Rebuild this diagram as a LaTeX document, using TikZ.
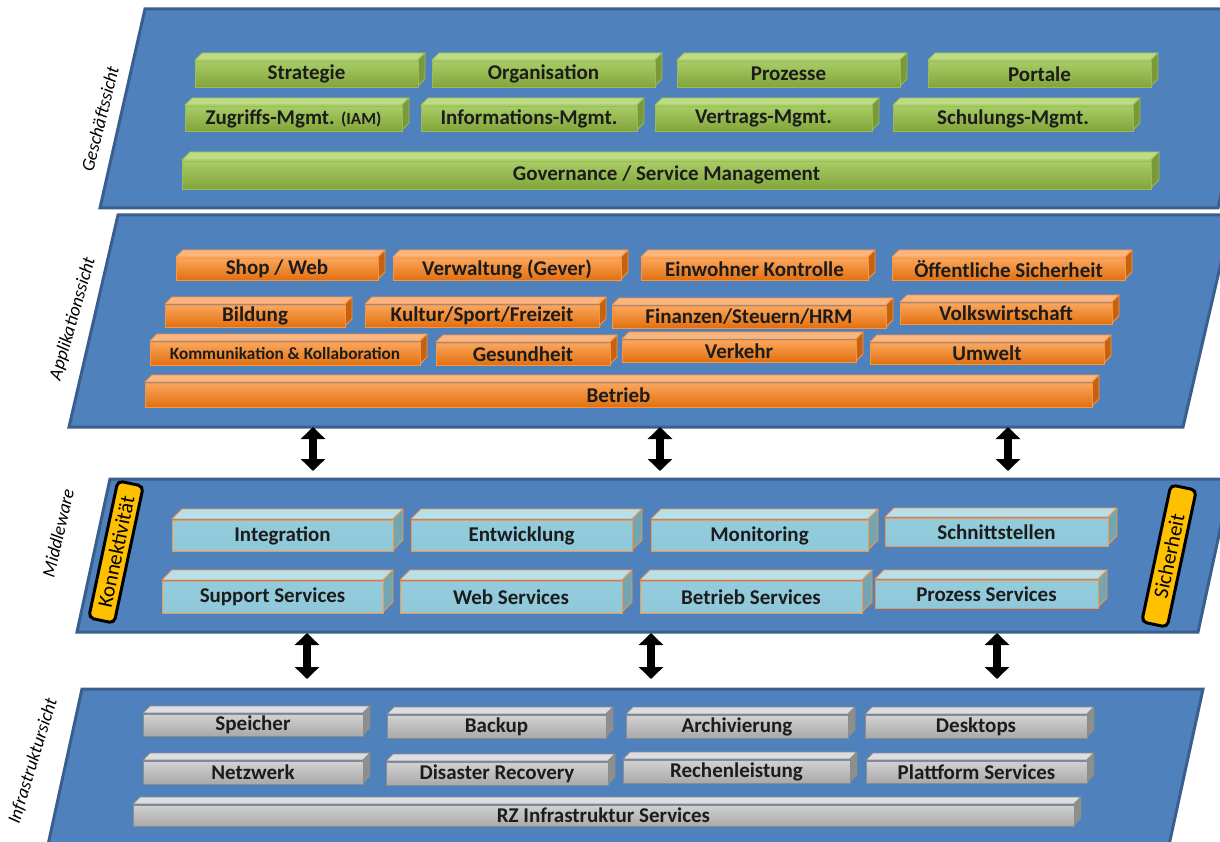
\documentclass[tikz,border=0pt]{standalone}
\usepackage{fontspec}
\setmainfont{Carlito}
\usetikzlibrary{arrows.meta}
\definecolor{panelfill}{HTML}{4F81BD}
\definecolor{paneledge}{HTML}{3A5F8E}
\definecolor{gA}{HTML}{A9CD66}
\definecolor{gB}{HTML}{81A53A}
\definecolor{gT}{HTML}{BEDC84}
\definecolor{gS}{HTML}{7A9A3A}
\definecolor{gE}{HTML}{9BBB59}
\definecolor{oA}{HTML}{FBA65C}
\definecolor{oB}{HTML}{E2700F}
\definecolor{oT}{HTML}{FBB680}
\definecolor{oS}{HTML}{C6620F}
\definecolor{oE}{HTML}{F79646}
\definecolor{bA}{HTML}{93CDDD}
\definecolor{bB}{HTML}{8FC9D9}
\definecolor{bT}{HTML}{B9DFE9}
\definecolor{bS}{HTML}{73A6B1}
\definecolor{bE}{HTML}{F79646}
\definecolor{kA}{HTML}{D2D2D2}
\definecolor{kB}{HTML}{A9A9A9}
\definecolor{kT}{HTML}{DEDEDE}
\definecolor{kS}{HTML}{8E8E8E}
\definecolor{kE}{HTML}{8C8C8C}
\definecolor{yel}{HTML}{FFC000}
\definecolor{txt}{HTML}{1C1C1C}
\newcommand{\cube}[9]{%
  \filldraw[fill=#7T,draw=#7E,line width=0.9pt,line join=round] (#2,#3) -- ({#2+#6},{#3-#6}) -- ({#4+#6},{#3-#6}) -- (#4,#3) -- cycle;
  \filldraw[fill=#7S,draw=#7E,line width=0.9pt,line join=round] (#4,#3) -- ({#4+#6},{#3-#6}) -- ({#4+#6},{#5-#6}) -- (#4,#5) -- cycle;
  \node[draw=#7E,line width=0.9pt,top color=#7A,bottom color=#7B,minimum width={#4-#2},minimum height={#5-#3},inner sep=0pt,anchor=center,text=txt,font=#8] (#1) at ({(#2+#4)/2},{(#3+#5)/2+1}) {#9};%
}
\newcommand{\bx}{\bfseries\fontsize{21}{23}\selectfont}
\newcommand{\bxs}{\bfseries\fontsize{17.2}{19}\selectfont}
\tikzset{
  panel/.style={fill=panelfill,draw=paneledge,line width=3pt,line join=miter},
  sidelabel/.style={font=\itshape\fontsize{18.5}{20}\selectfont,text=black,inner sep=0pt},
  pillar/.style={fill=yel,draw=black,line width=3pt,rounded corners=5pt,minimum width=140pt,minimum height=26pt,inner sep=0pt,font=\fontsize{21}{22}\selectfont,text=black},
  blockarrow/.style={line width=8pt,{Triangle[width=24pt,length=12pt]}-{Triangle[width=24pt,length=12pt]}}
}
\begin{document}
\begin{tikzpicture}[x=1pt,y=-1pt]
\useasboundingbox (0,0) rectangle (1220,842);
\begin{scope}
\clip (0,0) rectangle (1220,842);
% panels
\draw[panel] (145,9) -- (1263,9) -- (1218,208) -- (100,208) -- cycle;
\draw[panel] (118,215) -- (1232,215) -- (1183,427) -- (69,427) -- cycle;
\draw[panel] (110,479) -- (1231,479) -- (1198,632) -- (77,632) -- cycle;
\draw[panel] (82,689) -- (1203,689) -- (1157,900) -- (36,900) -- cycle;
% side labels
\node[sidelabel,rotate=76] (lbl1) at (100,119) {Geschäftssicht};
\node[sidelabel,rotate=74] (lbl2) at (73,319) {Applikationssicht};
\node[sidelabel,rotate=77] (lbl3) at (58,533) {Middleware};
\node[sidelabel,rotate=73] (lbl4) at (33,761) {Infrastruktursicht};
% business layer
\cube{strategie}{195}{60}{418}{86}{7}{g}{\bx}{Strategie}
\cube{organisation}{432}{60}{655}{86}{7}{g}{\bx}{Organisation}
\cube{prozesse}{677}{60}{900}{86}{7}{g}{\bx}{Prozesse}
\cube{portale}{928}{60}{1151}{86}{7}{g}{\bx}{Portale}
\cube{zugriff}{185}{105}{402}{130}{7}{g}{\bx}{Zugriffs-Mgmt. {\fontsize{17}{19}\selectfont(IAM)}}
\cube{info}{421}{105}{637}{130}{7}{g}{\bx}{Informations-Mgmt.}
\cube{vertrag}{655}{105}{872}{130}{7}{g}{\bx}{Vertrags-Mgmt.}
\cube{schulung}{893}{105}{1133}{130}{7}{g}{\bx}{Schulungs-Mgmt.}
\cube{governance}{182}{160}{1151}{188}{8}{g}{\bx}{Governance / Service Management}
% application layer
\cube{shop}{176}{257}{378}{279}{7}{o}{\bx}{Shop / Web}
\cube{verwaltung}{393}{257}{621}{279}{7}{o}{\bx}{Verwaltung (Gever)}
\cube{einwohner}{641}{257}{868}{279}{7}{o}{\bx}{Einwohner Kontrolle}
\cube{oeffentlich}{892}{257}{1125}{279}{7}{o}{\bx}{Öffentliche Sicherheit}
\cube{bildung}{165}{304}{345}{326}{7}{o}{\bx}{Bildung}
\cube{kultur}{365}{304}{599}{326}{7}{o}{\bx}{Kultur/Sport/Freizeit}
\cube{finanzen}{612}{305}{886}{327}{7}{o}{\bx}{Finanzen/Steuern/HRM}
\cube{volkswirtschaft}{900}{302}{1112}{323}{7}{o}{\bx}{Volkswirtschaft}
\cube{kommunikation}{150}{341}{420}{364}{7}{o}{\bxs}{Kommunikation \& Kollaboration}
\cube{gesundheit}{436}{342}{610}{364}{7}{o}{\bx}{Gesundheit}
\cube{verkehr}{622}{339}{856}{361}{7}{o}{\bx}{Verkehr}
\cube{umwelt}{870}{342}{1104}{363}{7}{o}{\bx}{Umwelt}
\cube{betrieb}{145}{382}{1092}{406}{7}{o}{\bx}{Betrieb}
% middleware
\node[pillar,rotate=78] (konn) at (116,552) {Konnektivität};
\node[pillar,rotate=78] (sich) at (1169,556) {Sicherheit};
\cube{integration}{172}{519}{393}{550}{10}{b}{\bx}{Integration}
\cube{entwicklung}{411}{519}{632}{550}{10}{b}{\bx}{Entwicklung}
\cube{monitoring}{651}{519}{868}{550}{10}{b}{\bx}{Monitoring}
\cube{schnitt}{885}{517}{1108}{545}{9}{b}{\bx}{Schnittstellen}
\cube{support}{162}{580}{383}{612}{10}{b}{\bx}{Support Services}
\cube{websrv}{400}{580}{622}{612}{10}{b}{\bx}{Web Services}
\cube{betriebsrv}{640}{580}{862}{612}{10}{b}{\bx}{Betrieb Services}
\cube{prozesssrv}{875}{579}{1098}{607}{9}{b}{\bx}{Prozess Services}
% infrastructure
\cube{speicher}{143}{713}{363}{735}{7}{k}{\bx}{Speicher}
\cube{backup}{387}{714}{606}{737}{7}{k}{\bx}{Backup}
\cube{archiv}{626}{714}{848}{737}{7}{k}{\bx}{Archivierung}
\cube{desktops}{865}{714}{1087}{737}{7}{k}{\bx}{Desktops}
\cube{netzwerk}{143}{760}{363}{783}{7}{k}{\bx}{Netzwerk}
\cube{disaster}{386}{761}{608}{784}{7}{k}{\bx}{Disaster Recovery}
\cube{rechen}{623}{759}{850}{782}{7}{k}{\bx}{Rechenleistung}
\cube{plattform}{866}{760}{1087}{782}{7}{k}{\bx}{Plattform Services}
\cube{rz}{133}{804}{1074}{825}{7}{k}{\bx}{RZ Infrastruktur Services}
% arrows
\coordinate (a1t) at (313,427); \coordinate (a1b) at (313,471);
\coordinate (a2t) at (660,427); \coordinate (a2b) at (660,471);
\coordinate (a3t) at (1008,427); \coordinate (a3b) at (1008,471);
\coordinate (b1t) at (307,633); \coordinate (b1b) at (307,679);
\coordinate (b2t) at (651,633); \coordinate (b2b) at (651,679);
\coordinate (b3t) at (997,633); \coordinate (b3b) at (997,679);
\draw[blockarrow] (a1t) -- (a1b);
\draw[blockarrow] (a2t) -- (a2b);
\draw[blockarrow] (a3t) -- (a3b);
\draw[blockarrow] (b1t) -- (b1b);
\draw[blockarrow] (b2t) -- (b2b);
\draw[blockarrow] (b3t) -- (b3b);
\end{scope}
\end{tikzpicture}
\end{document}
